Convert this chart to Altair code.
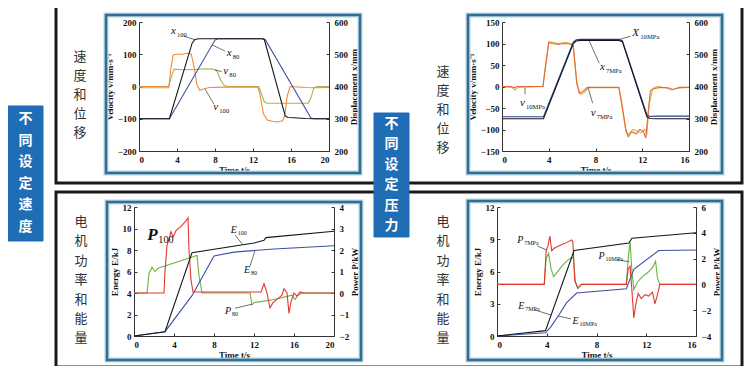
import altair as alt
import pandas as pd

W, H = 736, 358          # whole canvas (page minus 8px margin)
OX = OY = 8               # page margin

# ---------------- data ----------------
# Top-left: different set speeds -- velocity (left) & displacement (right)
tl_t_x100 = [0, 3.2, 5.6, 5.9, 6.3, 13.0, 13.2, 15.4, 15.7, 16.3, 17.5, 18.5, 20]
tl_x100 = [300, 300, 535, 546, 548, 548, 545, 308, 304, 303, 301, 300, 300]
tl_t_x80 = [0, 3.2, 8.0, 8.3, 13.1, 13.3, 18.1, 18.4, 20]
tl_x80 = [300, 300, 544, 548, 548, 545, 302, 300, 300]
tl_t_v100 = [0, 3.15, 3.35, 3.6, 4.0, 4.6, 5.1, 5.5, 5.8, 6.1, 6.4, 6.8, 7.4, 9.0, 12.5, 12.7,
             13.1, 13.5, 14.0, 14.6, 15.1, 15.35, 15.6, 15.9, 16.4, 17.5, 18.5, 20]
tl_v100 = [0, 0, 55, 98, 100, 100, 103, 100, 60, 5, -12, -8, -3, -2, -2, -20,
           -85, -104, -108, -110, -106, -90, -30, 0, -1, -3, -4, -3]
tl_t_v80 = [0, 3.1, 3.4, 3.7, 4.5, 6.0, 7.0, 7.8, 8.2, 8.6, 9.0, 9.5, 12.6, 12.8, 13.2, 13.5,
            15.0, 17.8, 18.1, 18.4, 18.7, 20]
tl_v80 = [-4, -4, 30, 54, 52, 53, 55, 54, 48, 20, 2, 0, 0, -15, -48, -52,
          -52, -52, -35, -5, 0, 0]

# Top-right: different set pressures -- velocity (left) & displacement (right)
tr_t_x = [0, 3.55, 6.1, 6.35, 6.7, 10.0, 10.3, 12.4, 12.65, 13.2, 16]
tr_x10 = [306, 306, 538, 545, 546, 546, 542, 312, 307, 308, 308]
tr_x7 = [300, 300, 533, 541, 543, 543, 539, 306, 301, 300, 300]
tr_t_v7 = [0, 0.8, 1.0, 1.3, 3.5, 3.7, 4.0, 4.3, 4.8, 5.3, 5.8, 6.1, 6.4, 6.6, 6.9, 7.3, 10.0,
           10.2, 10.6, 10.8, 11.1, 11.5, 11.8, 12.1, 12.3, 12.5, 12.7, 13.0, 13.5, 14.2, 14.6, 15.2, 16]
tr_v7 = [0, 0, -3, 0, 0, 40, 102, 100, 98, 100, 99, 95, 10, -15, -12, -2, -2,
         -30, -100, -117, -105, -110, -100, -105, -120, -60, -10, -5, -2, -3, -7, -2, -2]
tr_t_v10 = [0, 0.9, 1.1, 1.4, 3.5, 3.7, 4.0, 4.4, 4.9, 5.4, 5.9, 6.1, 6.4, 6.7, 7.0, 7.4, 10.0,
            10.2, 10.6, 10.8, 11.2, 11.6, 11.9, 12.2, 12.4, 12.6, 12.9, 13.2, 14, 14.5, 15, 16]
tr_v10 = [0, -3, -8, -2, 0, 45, 105, 102, 100, 103, 100, 92, 5, -18, -15, -3, -3,
          -35, -105, -112, -100, -104, -108, -100, -110, -40, -5, 0, -3, -8, -4, -2]

# Bottom-left: different set speeds -- energy (left) & power (right)
bl_t_e100 = [0, 3.1, 5.8, 12.0, 13.0, 13.2, 20]
bl_e100 = [0, 0.4, 7.75, 8.65, 8.9, 9.15, 9.75]
bl_t_e80 = [0, 3.1, 5.8, 8.0, 10.0, 14.0, 20]
bl_e80 = [0, 0.4, 3.75, 7.45, 7.8, 8.1, 8.4]
bl_t_p100 = [0, 3.0, 3.1, 3.3, 3.7, 3.9, 4.2, 4.7, 5.2, 5.4, 5.5, 5.7, 5.9, 6.2, 12.4, 12.7, 13.0,
             13.3, 13.6, 13.9, 14.3, 14.8, 15.0, 15.3, 15.5, 15.7, 16.0, 16.3, 16.6, 17.0, 20]
bl_p100 = [0, 0, 1.0, 2.2, 2.85, 2.6, 2.9, 3.1, 3.35, 3.5, 2.0, 0.6, 0.05, 0.05, 0.05, 0.05, 0.43,
           0.0, -0.7, -0.45, -0.3, -0.1, 0.2, 0.0, -0.95, -0.4, 0.0, -0.15, 0.05, 0.0, 0.0]
bl_t_p80 = [0, 1.3, 1.5, 1.8, 2.1, 2.4, 6.0, 6.3, 6.5, 6.8, 11.6, 11.8, 12.0, 14.0, 15.8, 16.1,
            16.4, 16.8, 20]
bl_p80 = [0, 0, 0.9, 1.2, 1.0, 1.15, 1.7, 1.75, 0.8, 0.0, 0.0, -0.55, -0.45, -0.3, -0.1, -0.3,
          -0.1, 0.0, 0.0]

# Bottom-right: different set pressures -- energy (left) & power (right)
br_t_e7 = [0, 3.9, 6.2, 10.6, 10.85, 16]
br_e7 = [0, 0.5, 7.95, 8.65, 9.1, 9.6]
br_t_e10 = [0, 3.9, 4.3, 5.0, 5.6, 6.4, 10.4, 10.6, 11.0, 13.0, 16]
br_e10 = [0, 0.3, 0.8, 2.0, 3.1, 4.0, 4.4, 5.0, 6.2, 7.95, 8.0]
br_t_p7 = [0, 3.8, 3.95, 4.1, 4.25, 4.4, 4.6, 5.0, 5.5, 6.0, 6.1, 6.25, 6.5, 6.8, 7.2, 10.4,
           10.55, 10.7, 10.85, 11.0, 11.15, 11.35, 11.6, 11.9, 12.2, 12.5, 12.7, 12.9, 13.1, 13.4, 16]
br_p7 = [0, 0, 2.6, 3.0, 3.75, 2.6, 2.8, 3.0, 3.2, 3.45, 3.3, 0.3, -0.3, 0.0, 0.0, 0.0,
         1.2, 1.4, -0.5, -2.6, -1.6, -0.7, -1.1, -0.8, -0.9, -0.6, -1.5, -0.8, 0.0, 0.0, 0.0]
br_t_p10 = [0, 3.8, 3.95, 4.15, 4.35, 4.55, 4.8, 5.2, 5.6, 6.0, 6.15, 6.3, 6.5, 6.8, 10.4,
            10.55, 10.7, 10.85, 11.0, 11.3, 11.7, 12.1, 12.5, 12.75, 12.9, 13.1, 13.3, 16]
br_p10 = [0, 0, 2.0, 2.4, 1.2, 0.6, 0.9, 1.4, 1.8, 2.1, 2.0, 0.2, -0.3, 0.0, 0.0,
          2.0, 3.3, 1.0, -0.4, 0.2, 0.6, 0.9, 1.3, 1.8, 0.5, 0.0, 0.0, 0.0]

# side captions
cap_speed = '不同设定速度'
cap_press = '不同设定压力'
cap_motion = '速度和位移'
cap_energy = '电机功率和能量'

# ---------------- panel layout (page pixels) ----------------
PANELS = {
    'TL': dict(x0=139, x1=329, yb=151, yt=22, xdom=[0, 20], xvals=[0, 4, 8, 12, 16, 20],
               ldom=[-200, 200], lvals=[-200, -100, 0, 100, 200], ltitle='Velocity v/mm·s⁻¹',
               rdom=[200, 600], rvals=[200, 300, 400, 500, 600], rtitle='Displacement x/mm'),
    'TR': dict(x0=502, x1=689, yb=151, yt=22, xdom=[0, 16], xvals=[0, 4, 8, 12, 16],
               ldom=[-150, 150], lvals=[-150, -100, -50, 0, 50, 100, 150], ltitle='Velocity v/mm·s⁻¹',
               rdom=[200, 600], rvals=[200, 300, 400, 500, 600], rtitle='Displacement x/mm'),
    'BL': dict(x0=134, x1=334, yb=336, yt=207, xdom=[0, 20], xvals=[0, 4, 8, 12, 16, 20],
               ldom=[0, 12], lvals=[0, 2, 4, 6, 8, 10, 12], ltitle='Energy E/kJ',
               rdom=[-2, 4], rvals=[-2, -1, 0, 1, 2, 3, 4], rtitle='Power P/kW'),
    'BR': dict(x0=497, x1=696, yb=336, yt=207, xdom=[0, 16], xvals=[0, 4, 8, 12, 16],
               ldom=[0, 12], lvals=[0, 3, 6, 9, 12], ltitle='Energy E/kJ',
               rdom=[-4, 6], rvals=[-4, -2, 0, 2, 4, 6], rtitle='Power P/kW'),
}

BLACK = '#161616'
BLUE = '#3d4fa5'
NAVY = '#2d3f8f'
ORANGE = '#ee8a3c'
OLIVE = '#a9b446'
RED = '#e2392b'
GREEN = '#6db33f'
YELLOW = '#d9b24a'
REDOR = '#e8683a'

SERIES = [
    # panel, side, t, values, colour, role
    ('TL', 'L', tl_t_v80, tl_v80, OLIVE, 'main'),
    ('TL', 'L', tl_t_v100, tl_v100, ORANGE, 'ticks'),
    ('TL', 'R', tl_t_x80, tl_x80, BLUE, 'main'),
    ('TL', 'R', tl_t_x100, tl_x100, BLACK, 'ticks'),
    ('TR', 'L', tr_t_v10, tr_v10, YELLOW, 'main'),
    ('TR', 'L', tr_t_v7, tr_v7, REDOR, 'ticks'),
    ('TR', 'R', tr_t_x, tr_x10, NAVY, 'main'),
    ('TR', 'R', tr_t_x, tr_x7, BLACK, 'ticks'),
    ('BL', 'R', bl_t_p80, bl_p80, GREEN, 'main'),
    ('BL', 'R', bl_t_p100, bl_p100, RED, 'ticks'),
    ('BL', 'L', bl_t_e80, bl_e80, BLUE, 'main'),
    ('BL', 'L', bl_t_e100, bl_e100, BLACK, 'ticks'),
    ('BR', 'R', br_t_p10, br_p10, GREEN, 'main'),
    ('BR', 'R', br_t_p7, br_p7, RED, 'ticks'),
    ('BR', 'L', br_t_e10, br_e10, BLUE, 'main'),
    ('BR', 'L', br_t_e7, br_e7, BLACK, 'ticks'),
]

# curve labels: panel, side, x, y, letter, subscript, letter size, sub dx, sub dy, bold
LABELS = [
    ('TL', 'R', 3.37, 573, 'x', '100', 11, 6, 4, False),
    ('TL', 'R', 9.23, 503, 'x', '80', 11, 6, 4, False),
    ('TL', 'L', 8.88, 48, 'v', '80', 11, 6, 4, False),
    ('TL', 'L', 7.82, -63, 'v', '100', 11, 6, 4, False),
    ('TR', 'R', 11.15, 565, 'X', '10MPa', 11, 8, 4, False),
    ('TR', 'R', 8.38, 461, 'x', '7MPa', 11, 6, 4, False),
    ('TR', 'L', 1.54, -39, 'v', '10MPa', 11, 6, 4, False),
    ('TR', 'L', 7.59, -62, 'v', '7MPa', 11, 6, 4, False),
    ('BL', 'R', 1.33, 2.70, 'P', '100', 17, 11, 5, True),
    ('BL', 'L', 9.67, 9.86, 'E', '100', 10, 7, 3, False),
    ('BL', 'L', 11.0, 6.14, 'E', '80', 10, 7, 3, False),
    ('BL', 'R', 9.1, -0.82, 'P', '80', 10, 7, 3, False),
    ('BR', 'R', 1.63, 3.44, 'P', '7MPa', 10, 7, 3, False),
    ('BR', 'R', 8.17, 2.23, 'P', '10MPa', 10, 7, 3, False),
    ('BR', 'L', 1.71, 2.79, 'E', '7MPa', 10, 7, 3, False),
    ('BR', 'L', 6.08, 1.43, 'E', '10MPa', 10, 7, 3, False),
]

# leader lines: panel, side, x1, y1, x2, y2
LEADERS = [
    ('TL', 'R', 4.74, 556, 5.89, 545),
    ('TL', 'R', 9.05, 510, 7.7, 529),
    ('TL', 'L', 8.7, 46, 8.0, 52),
    ('TL', 'L', 7.9, -55, 6.95, -8),
    ('TR', 'R', 11.0, 556, 9.95, 545),
    ('TR', 'R', 8.32, 472, 7.47, 541),
    ('TR', 'L', 1.97, -18, 1.97, -3),
    ('TR', 'L', 7.76, -39, 7.38, -4),
    ('BL', 'L', 10.1, 9.4, 10.87, 8.5),
    ('BL', 'L', 11.6, 6.51, 12.1, 7.95),
    ('BL', 'R', 10.1, -0.71, 11.8, -0.52),
    ('BR', 'R', 3.24, 2.98, 3.99, 2.67),
    ('BR', 'R', 9.62, 1.9, 10.64, 1.76),
    ('BR', 'L', 3.05, 2.42, 4.35, 1.95),
    ('BR', 'L', 5.95, 1.6, 4.92, 1.85),
]

# ---------------- helpers ----------------
SERIF = 'Liberation Serif'
CJK = 'Noto Sans CJK SC'
AX = dict(labelFont=SERIF, labelFontWeight='bold', labelFontSize=9, labelColor='#111',
          titleFont=SERIF, titleFontWeight='bold', titleFontSize=9, titleColor='#111',
          domainColor='#333', domainWidth=1, tickColor='#333', grid=False)


def sx(p):
    P = PANELS[p]
    return alt.Scale(domain=P['xdom'], range=[P['x0'] - OX, P['x1'] - OX], nice=False, zero=False)


def sy(p, side):
    P = PANELS[p]
    dom = P['ldom'] if side == 'L' else P['rdom']
    return alt.Scale(domain=dom, range=[P['yb'] - OY, P['yt'] - OY], nice=False, zero=False)


def x_axis(p, role):
    P = PANELS[p]
    ypos = P['yb'] - OY
    if role == 'main':
        return alt.Axis(orient='bottom', offset=ypos - H, values=P['xvals'], ticks=False,
                        labelPadding=4, title='Time t/s', titlePadding=1, **AX)
    return alt.Axis(orient='top', offset=-ypos, values=P['xvals'], labels=False, domain=False,
                    ticks=True, tickSize=3, tickColor='#333', title=None, grid=False)


def y_axis(p, side, role):
    P = PANELS[p]
    if side == 'L':
        xpos = P['x0'] - OX
        if role == 'main':
            return alt.Axis(orient='left', offset=-xpos, values=P['lvals'], ticks=False,
                            labelPadding=3, title=P['ltitle'], titleAngle=270,
                            titleBaseline='bottom', titlePadding=3, **AX)
        return alt.Axis(orient='right', offset=xpos - W, values=P['lvals'], labels=False,
                        domain=False, ticks=True, tickSize=3, tickColor='#333', title=None, grid=False)
    xpos = P['x1'] - OX
    if role == 'main':
        return alt.Axis(orient='right', offset=xpos - W, values=P['rvals'], ticks=False,
                        labelPadding=5, title=P['rtitle'], titleAngle=270,
                        titleBaseline='top', titlePadding=2, **AX)
    return alt.Axis(orient='left', offset=-xpos, values=P['rvals'], labels=False,
                    domain=False, ticks=True, tickSize=3, tickColor='#333', title=None, grid=False)


ONE = pd.DataFrame({'k': [0]})


def box(x0, y0, x1, y1, **mk):
    return alt.Chart(ONE).mark_rect(**mk).encode(
        x=alt.value(x0 - OX), x2=alt.value(x1 - OX), y=alt.value(y0 - OY), y2=alt.value(y1 - OY))


def vtext(xc, yc0, s, size, color, weight, step):
    """vertical caption: one text item per character, centred at yc0 + i*step"""
    df = pd.DataFrame({'c': list(s), 'py': [yc0 - OY + i * step for i in range(len(s))]})
    return alt.Chart(df).mark_text(
        align='center', baseline='middle', font=CJK, fontSize=size, fontWeight=weight, color=color
    ).encode(x=alt.value(xc - OX), y=alt.Y('py:Q', scale=None, axis=None), text='c:N')


layers = []

# black row boxes
layers.append(box(56, 6, 742, 183, fillOpacity=0, stroke='#1a1a1a', strokeWidth=3))
layers.append(box(56, 192, 742, 367, fillOpacity=0, stroke='#1a1a1a', strokeWidth=3))
# plot frames (steel blue with soft halo)
for (a, b, c, d) in [(106, 15, 360, 173), (468, 15, 722, 173), (107, 202, 361, 360), (468, 201, 722, 360)]:
    layers.append(box(a, b, c, d, fillOpacity=0, stroke='#bcd3e2', strokeWidth=5))
    layers.append(box(a, b, c, d, fillOpacity=0, stroke='#2f6f94', strokeWidth=2.5))
# blue side boxes
layers.append(box(8, 106, 43, 241, fill='#1f6db5', stroke='#1f6db5'))
layers.append(box(374, 113, 409, 237, fill='#1f6db5', stroke='#1f6db5'))
layers.append(vtext(25.5, 119, cap_speed, 14, 'white', 'bold', 21.6))
layers.append(vtext(391.5, 124, cap_press, 14, 'white', 'bold', 20.4))
# Chinese row captions
layers.append(vtext(80, 57, cap_motion, 13, '#333', 'normal', 19))
layers.append(vtext(443, 72, cap_motion, 13, '#333', 'normal', 19))
layers.append(vtext(81, 222, cap_energy, 13, '#333', 'normal', 19.4))
layers.append(vtext(443, 222, cap_energy, 13, '#333', 'normal', 19.4))

# data series
for (p, side, t, v, col, role) in SERIES:
    df = pd.DataFrame({'t': t, 'v': v})
    xa = x_axis(p, role) if side == 'L' else None
    layers.append(alt.Chart(df).mark_line(color=col, strokeWidth=1.1).encode(
        x=alt.X('t:Q', scale=sx(p), axis=xa),
        y=alt.Y('v:Q', scale=sy(p, side), axis=y_axis(p, side, role))))

# leader lines
for (p, side, x1, y1, x2, y2) in LEADERS:
    df = pd.DataFrame({'a': [x1], 'b': [y1], 'a2': [x2], 'b2': [y2]})
    layers.append(alt.Chart(df).mark_rule(color='#333', strokeWidth=0.7).encode(
        x=alt.X('a:Q', scale=sx(p), axis=None), y=alt.Y('b:Q', scale=sy(p, side), axis=None),
        x2='a2:Q', y2='b2:Q'))

# curve labels
for (p, side, x, y, m, s, size, dx, dy, bold) in LABELS:
    df = pd.DataFrame({'a': [x], 'b': [y], 'm': [m], 's': [s]})
    enc = dict(x=alt.X('a:Q', scale=sx(p), axis=None), y=alt.Y('b:Q', scale=sy(p, side), axis=None))
    layers.append(alt.Chart(df).mark_text(
        align='left', baseline='middle', font=SERIF, fontStyle='italic',
        fontWeight='bold' if bold else 'normal', fontSize=size, color='#111').encode(text='m:N', **enc))
    layers.append(alt.Chart(df).mark_text(
        align='left', baseline='middle', font=SERIF, fontSize=max(6, size * 0.6),
        dx=dx, dy=dy, color='#111').encode(text='s:N', **enc))

chart = alt.layer(*layers).resolve_scale(x='independent', y='independent').properties(
    width=W, height=H, padding=0, background='white',
    autosize=alt.AutoSizeParams(type='none')
).configure_view(strokeWidth=0)

chart.save('out.html', embed_options={'renderer': 'svg', 'actions': False})
